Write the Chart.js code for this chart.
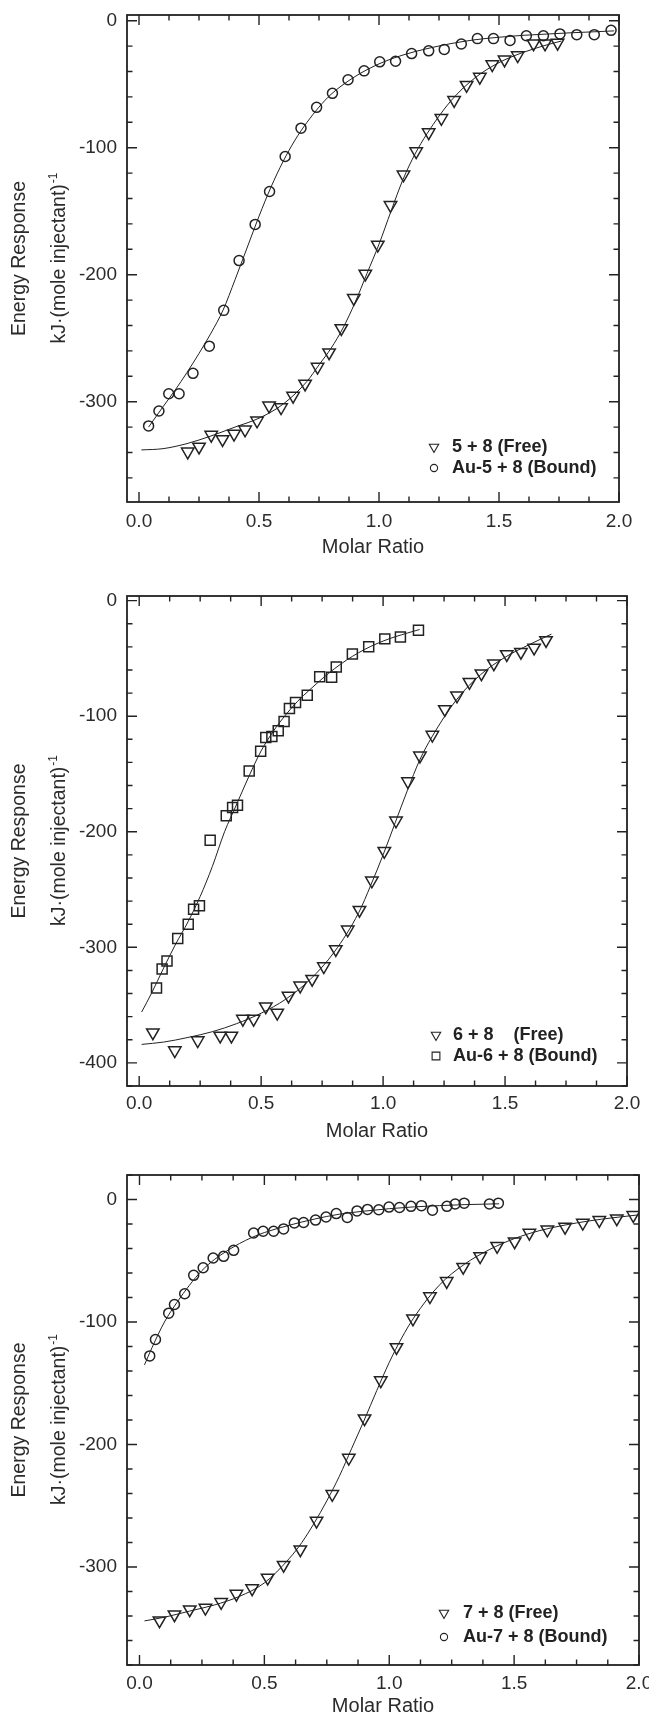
<!DOCTYPE html>
<html lang="en">
<head>
<meta charset="UTF-8" />
<title>ITC titration curves</title>
<script src="https://cdn.jsdelivr.net/npm/chart.js"></script>
<style>
  body { margin: 0; background: #fff; }
  .panel { position: absolute; left: 0; }
</style>
</head>
<body>
<div class="panel" style="top:0px"><canvas id="p1" width="649" height="562"></canvas></div>
<div class="panel" style="top:562px"><canvas id="p2" width="649" height="584"></canvas></div>
<div class="panel" style="top:1146px"><canvas id="p3" width="649" height="572"></canvas></div>

<script>
// ---- tick labels ----
const xTicks = [0, 0.5, 1, 1.5, 2];
const p1YTicks = [0, -100, -200, -300];
const p2YTicks = [0, -100, -200, -300, -400];
const p3YTicks = [0, -100, -200, -300];

// ---- panel 1 : 5 + 8 ----
const p1FreeX = [0.203, 0.250, 0.301, 0.348, 0.396, 0.442, 0.492, 0.542, 0.592, 0.642, 0.692, 0.744, 0.792, 0.843, 0.895, 0.943, 0.995, 1.048, 1.102, 1.155, 1.207, 1.260, 1.313, 1.365, 1.420, 1.472, 1.523, 1.578, 1.644, 1.692, 1.744];
const p1FreeY = [-339.4, -335.5, -326.2, -329.6, -325.3, -322.0, -314.9, -303.1, -304.5, -295.5, -285.9, -272.6, -261.3, -242.2, -218.5, -199.3, -176.5, -145.2, -121.2, -102.9, -88.0, -76.7, -62.6, -50.7, -44.3, -34.4, -30.7, -27.3, -18.0, -18.0, -17.5];
const p1BoundX = [0.040, 0.083, 0.124, 0.167, 0.225, 0.293, 0.353, 0.417, 0.484, 0.544, 0.609, 0.675, 0.740, 0.806, 0.871, 0.938, 1.003, 1.069, 1.136, 1.207, 1.272, 1.343, 1.410, 1.477, 1.546, 1.614, 1.685, 1.754, 1.824, 1.897, 1.967];
const p1BoundY = [-319.1, -307.3, -293.8, -293.8, -277.7, -256.3, -228.1, -188.9, -160.4, -134.5, -106.9, -84.6, -68.2, -57.2, -46.5, -39.5, -32.4, -31.9, -25.9, -23.7, -22.6, -18.3, -14.1, -14.1, -15.5, -11.8, -11.8, -10.4, -11.0, -11.0, -7.6];
const p1FreeFitX = [0.01, 0.1, 0.2, 0.3, 0.4, 0.5, 0.6, 0.7, 0.75, 0.8, 0.85, 0.9, 0.95, 1.0, 1.05, 1.1, 1.15, 1.2, 1.3, 1.4, 1.5, 1.6, 1.7, 1.76];
const p1FreeFitY = [-338, -337, -333, -327, -320, -313, -302, -284, -271, -258, -242, -222, -199, -176, -150, -125, -105, -89, -63, -45, -33, -25, -19, -16];
const p1BoundFitX = [0.04, 0.1, 0.15, 0.2, 0.25, 0.3, 0.35, 0.4, 0.45, 0.5, 0.55, 0.6, 0.65, 0.7, 0.75, 0.8, 0.9, 1.0, 1.1, 1.2, 1.3, 1.4, 1.5, 1.6, 1.7, 1.8, 1.9, 1.98];
const p1BoundFitY = [-320, -304, -291, -277, -262, -246, -228, -204, -179, -154, -131, -111, -94, -80, -68, -58, -44, -34, -27, -22, -18, -15, -13, -11.5, -10.5, -9.5, -8.7, -8];

// ---- panel 2 : 6 + 8 ----
const p2FreeX = [0.056, 0.146, 0.240, 0.332, 0.378, 0.425, 0.469, 0.519, 0.566, 0.612, 0.660, 0.709, 0.757, 0.806, 0.855, 0.903, 0.954, 1.005, 1.053, 1.102, 1.151, 1.202, 1.253, 1.303, 1.354, 1.403, 1.454, 1.507, 1.565, 1.619, 1.668];
const p2FreeY = [-373.7, -389.2, -380.5, -376.5, -376.5, -362.0, -362.0, -351.2, -356.7, -341.9, -333.2, -327.4, -316.5, -301.7, -284.7, -267.7, -242.3, -216.7, -190.4, -156.4, -134.2, -116.2, -94.0, -82.2, -70.5, -63.1, -54.4, -46.4, -44.5, -40.8, -34.3];
const p2BoundX = [0.071, 0.094, 0.114, 0.158, 0.201, 0.223, 0.247, 0.291, 0.357, 0.383, 0.403, 0.451, 0.498, 0.519, 0.544, 0.570, 0.594, 0.616, 0.641, 0.689, 0.740, 0.789, 0.808, 0.874, 0.941, 1.007, 1.071, 1.145];
const p2BoundY = [-335.1, -318.7, -311.9, -292.4, -280.1, -267.1, -264.0, -207.4, -186.1, -179.0, -177.1, -147.4, -130.4, -118.4, -117.5, -112.5, -104.5, -93.4, -88.1, -81.9, -65.8, -66.2, -57.5, -46.1, -39.9, -33.1, -31.5, -25.7];
const p2FreeFitX = [0.01, 0.1, 0.2, 0.3, 0.4, 0.5, 0.6, 0.7, 0.8, 0.9, 0.95, 1.0, 1.05, 1.1, 1.15, 1.2, 1.3, 1.4, 1.5, 1.6, 1.69];
const p2FreeFitY = [-384, -382, -378, -373, -366, -357, -345, -328, -304, -270, -246, -220, -192, -164, -138, -118, -86, -64, -49, -38, -29];
const p2BoundFitX = [0.01, 0.05, 0.1, 0.15, 0.2, 0.25, 0.3, 0.35, 0.4, 0.45, 0.5, 0.55, 0.6, 0.65, 0.7, 0.8, 0.9, 1.0, 1.1, 1.15];
const p2BoundFitY = [-356, -340, -318, -297, -278, -256, -230, -200, -176, -152, -130, -113, -99, -87, -77, -59, -45, -35, -28, -25];

// ---- panel 3 : 7 + 8 ----
const p3FreeX = [0.080, 0.140, 0.201, 0.264, 0.327, 0.388, 0.451, 0.513, 0.577, 0.644, 0.709, 0.772, 0.838, 0.901, 0.966, 1.029, 1.095, 1.163, 1.230, 1.296, 1.364, 1.432, 1.502, 1.561, 1.633, 1.704, 1.775, 1.841, 1.911, 1.977];
const p3FreeY = [-343.7, -338.8, -334.7, -333.4, -328.7, -322.0, -317.5, -308.8, -298.4, -285.7, -262.3, -240.5, -210.9, -178.8, -147.7, -120.6, -97.2, -79.1, -66.7, -55.1, -46.4, -38.0, -34.3, -27.3, -24.6, -22.4, -19.1, -16.9, -15.5, -12.8];
const p3BoundX = [0.041, 0.064, 0.117, 0.140, 0.181, 0.217, 0.255, 0.295, 0.337, 0.377, 0.457, 0.495, 0.537, 0.577, 0.620, 0.657, 0.705, 0.747, 0.788, 0.832, 0.871, 0.913, 0.958, 0.999, 1.041, 1.087, 1.129, 1.173, 1.231, 1.264, 1.300, 1.401, 1.437];
const p3BoundY = [-127.7, -114.3, -92.8, -85.7, -76.9, -61.9, -55.7, -47.8, -46.4, -41.5, -27.3, -25.9, -25.9, -24.0, -19.1, -18.8, -16.8, -14.3, -11.5, -14.6, -9.3, -8.1, -8.4, -6.2, -6.5, -5.6, -5.0, -8.7, -5.6, -3.7, -3.0, -3.7, -3.0];
const p3FreeFitX = [0.02, 0.1, 0.2, 0.3, 0.4, 0.5, 0.6, 0.65, 0.7, 0.75, 0.8, 0.85, 0.9, 0.95, 1.0, 1.05, 1.1, 1.2, 1.3, 1.4, 1.5, 1.6, 1.7, 1.8, 1.9, 2.0];
const p3FreeFitY = [-344, -341, -336, -331, -324, -313, -293, -280, -264, -246, -226, -203, -180, -156, -133, -113, -96, -70, -53, -41, -32, -25.5, -21, -17.5, -14.8, -12.5];
const p3BoundFitX = [0.02, 0.05, 0.1, 0.15, 0.2, 0.25, 0.3, 0.35, 0.4, 0.45, 0.5, 0.6, 0.7, 0.8, 0.9, 1.0, 1.1, 1.2, 1.3, 1.44];
const p3BoundFitY = [-135, -121, -100, -84, -70, -58, -49, -42, -36, -31, -27, -21, -16, -12, -9.5, -7.5, -6, -5, -4.2, -3.5];

const yTitle1 = "Energy Response";
const yTitle2 = "kJ\u00b7(mole injectant)";
const yTitleSup = "-1";
const xTitle = "Molar Ratio";

const ink = "#222";
const fontFam = '"Liberation Sans", Arial, Helvetica, sans-serif';
Chart.defaults.font.family = fontFam;
Chart.defaults.font.size = 19;
Chart.defaults.color = "#2b2b2b";

function pts(xs, ys) {
  return xs.map((v, i) => ({ x: v, y: ys[i] }));
}

function fitSet(xs, ys) {
  return {
    data: pts(xs, ys),
    showLine: true,
    pointRadius: 0,
    borderColor: ink,
    borderWidth: 1,
    cubicInterpolationMode: "monotone",
    fill: false,
  };
}

function markSet(label, xs, ys, style, r, rot) {
  return {
    label: label,
    data: pts(xs, ys),
    showLine: false,
    pointStyle: style,
    pointRadius: r,
    pointRotation: rot,
    pointBorderColor: ink,
    pointBackgroundColor: "rgba(255,255,255,0)",
    pointBorderWidth: 1.5,
    borderColor: ink,
    backgroundColor: "rgba(255,255,255,0)",
  };
}

// frame with inward ticks on four sides, y title, legend
const framePlugin = {
  id: "frame",
  afterDraw(chart, args, opts) {
    const { ctx, chartArea: a, scales } = chart;
    const x = scales.x, y = scales.y;
    ctx.save();
    ctx.strokeStyle = ink;
    ctx.lineWidth = 1.8;
    ctx.strokeRect(a.left, a.top, a.right - a.left, a.bottom - a.top);

    ctx.lineWidth = 1.4;
    ctx.beginPath();
    for (let i = 0; i <= 16; i++) {
      const v = i * 0.125;
      const px = x.getPixelForValue(v);
      const len = i % 4 === 0 ? 10 : 5.5;
      ctx.moveTo(px, a.bottom); ctx.lineTo(px, a.bottom - len);
      ctx.moveTo(px, a.top); ctx.lineTo(px, a.top + len);
    }
    for (let v = Math.ceil(y.min / 20) * 20; v <= y.max; v += 20) {
      const py = y.getPixelForValue(v);
      const len = v % 100 === 0 ? 10 : 5.5;
      ctx.moveTo(a.left, py); ctx.lineTo(a.left + len, py);
      ctx.moveTo(a.right, py); ctx.lineTo(a.right - len, py);
    }
    ctx.stroke();

    // y axis title, two lines, rotated
    const cy = (a.top + a.bottom) / 2;
    ctx.fillStyle = "#2b2b2b";
    ctx.textBaseline = "middle";
    ctx.save();
    ctx.translate(20, cy);
    ctx.rotate(-Math.PI / 2);
    ctx.textAlign = "center";
    ctx.font = "19.5px " + fontFam;
    ctx.fillText(yTitle1, 0, 0);
    ctx.restore();

    ctx.save();
    ctx.translate(60, cy);
    ctx.rotate(-Math.PI / 2);
    ctx.font = "19.5px " + fontFam;
    const w1 = ctx.measureText(yTitle2).width;
    ctx.font = "12px " + fontFam;
    const w2 = ctx.measureText(yTitleSup).width;
    const x0 = -(w1 + w2) / 2;
    ctx.textAlign = "left";
    ctx.font = "19.5px " + fontFam;
    ctx.fillText(yTitle2, x0, 0);
    ctx.font = "12px " + fontFam;
    ctx.fillText(yTitleSup, x0 + w1 + 1, -6);
    ctx.restore();

    // legend inside plot
    const lg = opts.legend;
    const sets = chart.data.datasets.filter(d => !d.showLine);
    ctx.font = "bold 18px " + fontFam;
    ctx.textAlign = "left";
    sets.forEach((d, i) => {
      const ly = lg.y + i * lg.gap;
      const r = d.pointStyle === "circle" ? 3.6 : (d.pointStyle === "rect" ? 5.5 : 5.4);
      ctx.fillStyle = "rgba(255,255,255,0)";
      ctx.strokeStyle = ink;
      ctx.lineWidth = 1.1;
      Chart.helpers.drawPoint(ctx, { pointStyle: d.pointStyle, rotation: d.pointRotation, radius: r, borderWidth: 1.1 }, lg.markerX, ly);
      ctx.fillStyle = ink;
      ctx.fillText(d.label, lg.textX, ly);
    });
    ctx.restore();
  },
};

function makePanel(id, o) {
  return new Chart(document.getElementById(id), {
    type: "scatter",
    data: {
      datasets: [
        fitSet(o.freeFitX, o.freeFitY),
        fitSet(o.boundFitX, o.boundFitY),
        markSet(o.freeLabel, o.freeX, o.freeY, "triangle", 7.2, 180),
        markSet(o.boundLabel, o.boundX, o.boundY, o.boundStyle, o.boundR, 0),
      ],
    },
    options: {
      responsive: false,
      animation: false,
      events: [],
      layout: { padding: { top: o.padTop, right: o.padRight, left: 0, bottom: 0 } },
      plugins: {
        legend: { display: false },
        tooltip: { enabled: false },
        frame: { legend: o.legend },
      },
      scales: {
        x: {
          type: "linear",
          min: -0.05,
          max: 2.0,
          grid: { display: false, drawTicks: false },
          border: { display: false },
          afterBuildTicks: s => { s.ticks = xTicks.map(v => ({ value: v })); },
          afterFit: s => { s.height = o.xHeight; s.paddingLeft = 0; s.paddingRight = 0; },
          ticks: { padding: o.xPad, maxRotation: 0, autoSkip: false, callback: v => Number(v).toFixed(1) },
          title: { display: true, text: xTitle, font: { size: 20 }, padding: { top: 0, bottom: o.titlePad } },
        },
        y: {
          type: "linear",
          min: o.yMin,
          max: o.yMax,
          grid: { display: false, drawTicks: false },
          border: { display: false },
          afterBuildTicks: s => { s.ticks = o.yTicks.map(v => ({ value: v })); },
          afterFit: s => { s.width = 127; s.paddingTop = 0; s.paddingBottom = 0; },
          ticks: { padding: 10, autoSkip: false, callback: v => String(v) },
        },
      },
    },
    plugins: [framePlugin],
  });
}

makePanel("p1", {
  freeX: p1FreeX, freeY: p1FreeY, boundX: p1BoundX, boundY: p1BoundY,
  freeFitX: p1FreeFitX, freeFitY: p1FreeFitY, boundFitX: p1BoundFitX, boundFitY: p1BoundFitY,
  freeLabel: "5 + 8 (Free)", boundLabel: "Au-5 + 8 (Bound)",
  boundStyle: "circle", boundR: 5,
  yMin: -379, yMax: 4.5, yTicks: p1YTicks,
  padTop: 15, padRight: 30, xHeight: 60, xPad: 8.5, titlePad: 3,
  legend: { markerX: 434, textX: 452, y: 447, gap: 21 },
});

makePanel("p2", {
  freeX: p2FreeX, freeY: p2FreeY, boundX: p2BoundX, boundY: p2BoundY,
  freeFitX: p2FreeFitX, freeFitY: p2FreeFitY, boundFitX: p2BoundFitX, boundFitY: p2BoundFitY,
  freeLabel: "6 + 8    (Free)", boundLabel: "Au-6 + 8 (Bound)",
  boundStyle: "rect", boundR: 7.07,
  yMin: -420, yMax: 4, yTicks: p2YTicks,
  padTop: 34, padRight: 22, xHeight: 60, xPad: 6, titlePad: 3,
  legend: { markerX: 436, textX: 453, y: 473, gap: 21 },
});

makePanel("p3", {
  freeX: p3FreeX, freeY: p3FreeY, boundX: p3BoundX, boundY: p3BoundY,
  freeFitX: p3FreeFitX, freeFitY: p3FreeFitY, boundFitX: p3BoundFitX, boundFitY: p3BoundFitY,
  freeLabel: "7 + 8 (Free)", boundLabel: "Au-7 + 8 (Bound)",
  boundStyle: "circle", boundR: 5,
  yMin: -380, yMax: 20, yTicks: p3YTicks,
  padTop: 29, padRight: 10, xHeight: 53, xPad: 7, titlePad: 0,
  legend: { markerX: 444, textX: 463, y: 467, gap: 24 },
});
</script>
</body>
</html>
